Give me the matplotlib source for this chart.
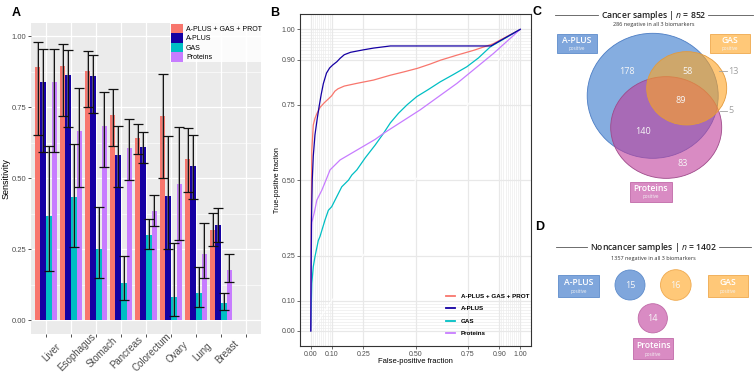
import numpy as np
import matplotlib
matplotlib.use('Agg')
import matplotlib.pyplot as plt
from matplotlib.patches import Ellipse, Circle, Rectangle
from matplotlib.lines import Line2D

plt.rcParams['font.family'] = ['Liberation Sans', 'DejaVu Sans']
plt.rcParams['mathtext.fontset'] = 'custom'
plt.rcParams['mathtext.rm'] = 'Open Sans'
plt.rcParams['mathtext.it'] = 'Open Sans:italic'

# ---- panel A data: sensitivity by cancer type ----
categories = ['Liver', 'Esophagus', 'Stomach', 'Pancreas', 'Colorectum', 'Ovary', 'Lung', 'Breast']
series = ['A-PLUS + GAS + PROT', 'A-PLUS', 'GAS', 'Proteins']
colors = ['#F8766D', '#1500A3', '#00BFC4', '#C77CFF']

combo_sens = [0.890, 0.894, 0.877, 0.722, 0.642, 0.719, 0.567, 0.317]
combo_lo = [0.651, 0.718, 0.750, 0.614, 0.585, 0.501, 0.452, 0.262]
combo_hi = [0.978, 0.971, 0.947, 0.812, 0.692, 0.868, 0.675, 0.378]
aplus_sens = [0.838, 0.863, 0.859, 0.581, 0.610, 0.437, 0.543, 0.335]
aplus_lo = [0.593, 0.680, 0.729, 0.468, 0.552, 0.250, 0.428, 0.276]
aplus_hi = [0.954, 0.951, 0.933, 0.684, 0.662, 0.648, 0.651, 0.396]
gas_sens = [0.366, 0.432, 0.252, 0.129, 0.299, 0.082, 0.097, 0.059]
gas_lo = [0.172, 0.258, 0.147, 0.070, 0.252, 0.014, 0.047, 0.035]
gas_hi = [0.613, 0.620, 0.397, 0.225, 0.355, 0.273, 0.188, 0.096]
prot_sens = [0.838, 0.666, 0.683, 0.606, 0.384, 0.480, 0.232, 0.178]
prot_lo = [0.593, 0.468, 0.539, 0.492, 0.331, 0.282, 0.149, 0.135]
prot_hi = [0.954, 0.817, 0.803, 0.708, 0.441, 0.680, 0.343, 0.232]

# ---- panel B data: ROC curves (fpr, tpr) ----
combo_fpr = [0, 0.002, 0.005, 0.012, 0.02, 0.03, 0.045, 0.065, 0.085, 0.10, 0.115, 0.13, 0.16, 0.22,
             0.30, 0.38, 0.45, 0.51, 0.57, 0.62, 0.70, 0.78, 0.87, 1.0]
combo_tpr = [0, 0.35, 0.60, 0.683, 0.705, 0.722, 0.742, 0.757, 0.770, 0.780, 0.795, 0.803, 0.812, 0.821,
             0.832, 0.848, 0.860, 0.871, 0.885, 0.898, 0.915, 0.931, 0.952, 1.0]
aplus_fpr = [0, 0.003, 0.007, 0.012, 0.02, 0.03, 0.04, 0.05, 0.06, 0.075, 0.09, 0.105, 0.125, 0.14,
             0.16, 0.19, 0.25, 0.30, 0.38, 0.86, 1.0]
aplus_tpr = [0, 0.35, 0.50, 0.58, 0.65, 0.70, 0.745, 0.785, 0.82, 0.855, 0.872, 0.882, 0.893, 0.904,
             0.916, 0.924, 0.932, 0.938, 0.945, 0.945, 1.0]
gas_fpr = [0, 0.003, 0.005, 0.012, 0.02, 0.036, 0.044, 0.068, 0.084, 0.10, 0.124, 0.148, 0.18, 0.196,
           0.22, 0.26, 0.307, 0.347, 0.38, 0.419, 0.46, 0.506, 0.56, 0.618, 0.68, 0.745, 0.80, 0.857, 1.0]
gas_tpr = [0, 0.10, 0.158, 0.213, 0.246, 0.30, 0.313, 0.368, 0.40, 0.412, 0.445, 0.478, 0.50, 0.517,
           0.534, 0.574, 0.616, 0.655, 0.69, 0.722, 0.75, 0.777, 0.80, 0.826, 0.85, 0.876, 0.905, 0.942, 1.0]
prot_fpr = [0, 0.0, 0.003, 0.005, 0.016, 0.029, 0.053, 0.076, 0.092, 0.14, 0.307, 0.347, 0.522, 0.698,
            0.872, 1.0]
prot_tpr = [0, 0.10, 0.28, 0.36, 0.39, 0.434, 0.467, 0.506, 0.534, 0.567, 0.635, 0.655, 0.733, 0.821,
            0.92, 1.0]
roc_ticks = [0, 0.1, 0.25, 0.5, 0.75, 0.9, 1.0]

# ---- panels C/D data: overlap counts ----
cancer_counts = {'aplus': 178, 'aplus_gas': 58, 'gas': 13, 'all': 89, 'gas_prot': 5,
                 'aplus_prot': 140, 'prot': 83}
noncancer_counts = [15, 16, 14]

W, H = 756, 372
fig = plt.figure(figsize=(W / 100, H / 100), dpi=100)

# ================= panel A =================
axA = fig.add_axes([31 / W, 1 - 334 / H, 230 / W, 311 / H])
axA.set_facecolor('#EBEBEB')
for s in axA.spines.values():
    s.set_visible(False)
x = np.arange(1, len(categories) + 1)
bw = 0.225
sens = [combo_sens, aplus_sens, gas_sens, prot_sens]
los = [combo_lo, aplus_lo, gas_lo, prot_lo]
his = [combo_hi, aplus_hi, gas_hi, prot_hi]
for k in range(4):
    xs = x + (k - 1.5) * bw
    v = np.array(sens[k])
    axA.bar(xs, v, bw, color=colors[k], label=series[k], zorder=2)
    yerr = [v - np.array(los[k]), np.array(his[k]) - v]
    axA.errorbar(xs, v, yerr=yerr, fmt='none', ecolor='#777777', elinewidth=1.5, capsize=0,
                 alpha=0.6, zorder=3)
    axA.errorbar(xs, v, yerr=yerr, fmt='none', ecolor='#111111', elinewidth=0.7, capsize=3.4,
                 capthick=0.9, zorder=4)
axA.set_xlim(0.4, 9.6)
axA.set_ylim(-0.049, 1.046)
axA.set_xticks(np.arange(1, 10))
axA.set_xticklabels([])
for i, c in enumerate(categories):
    axA.text(i + 1 + 0.24, -0.058, c, rotation=45, ha='center', va='center', rotation_mode='anchor',
             fontsize=7, color='#4D4D4D', transform=axA.get_xaxis_transform())
axA.set_yticks([0, 0.25, 0.5, 0.75, 1.0])
axA.set_yticks([0.125, 0.375, 0.625, 0.875], minor=True)
axA.set_yticklabels(['0.00', '0.25', '0.50', '0.75', '1.00'], fontsize=5.5, color='#4D4D4D')
axA.grid(True, which='major', color='white', lw=0.9, zorder=0)
axA.grid(True, which='minor', axis='y', color='white', lw=0.45, zorder=0)
axA.set_axisbelow(True)
axA.tick_params(axis='both', length=2.2, width=0.6, color='#333333', pad=1.2)
axA.tick_params(axis='y', which='minor', length=0)
axA.set_ylabel('Sensitivity', fontsize=6.5)
axA.yaxis.set_label_coords(-0.088, 0.5)
legA = axA.legend(loc='upper left', bbox_to_anchor=((170 - 31) / 230, 1.0), prop={'size': 5},
                  handlelength=1.72, handleheight=1.72, handletextpad=0.5, labelspacing=0.0,
                  borderpad=0.1, borderaxespad=0, frameon=True, fancybox=False)
legA.get_frame().set_facecolor('white')
legA.get_frame().set_alpha(0.85)
legA.get_frame().set_linewidth(0)

# ================= panel B =================
axB = fig.add_axes([300.3 / W, 1 - 346 / H, 230.4 / W, 331.7 / H])
minor = list(np.arange(0, 0.101, 0.01)) + list(np.arange(0.9, 1.001, 0.01))
for m in minor:
    axB.axvline(m, color='#EDEDED', lw=0.5, zorder=0)
    axB.axhline(m, color='#EDEDED', lw=0.5, zorder=0)
for t in roc_ticks:
    axB.axvline(t, color='#E8E8E8', lw=0.9, zorder=0)
    axB.axhline(t, color='#E8E8E8', lw=0.9, zorder=0)
axB.plot([0, 1], [0, 1], color='white', lw=0.7, zorder=1)
axB.plot(combo_fpr, combo_tpr, color=colors[0], lw=0.9, label=series[0], zorder=3)
axB.plot(gas_fpr, gas_tpr, color=colors[2], lw=0.9, label=series[2], zorder=3)
axB.plot(prot_fpr, prot_tpr, color=colors[3], lw=0.9, label=series[3], zorder=3)
axB.plot(aplus_fpr, aplus_tpr, color=colors[1], lw=0.9, label=series[1], zorder=4)
axB.set_xlim(-0.05, 1.05)
axB.set_ylim(-0.05, 1.05)
axB.set_xticks(roc_ticks)
axB.set_yticks(roc_ticks)
axB.set_xticklabels(['%.2f' % t for t in roc_ticks], fontsize=5, color='#4D4D4D')
axB.set_yticklabels(['%.2f' % t for t in roc_ticks], fontsize=5, color='#4D4D4D')
axB.tick_params(axis='both', length=2, width=0.5, color='#333333', pad=1.5)
for s in axB.spines.values():
    s.set_color('#333333')
    s.set_linewidth(0.8)
axB.set_xlabel('False-positive fraction', fontsize=5.5)
axB.set_ylabel('True-positive fraction', fontsize=5)
axB.xaxis.set_label_coords(0.5, -0.035)
axB.yaxis.set_label_coords(-0.082, 0.5)
handles = [Line2D([0], [0], color=colors[k], lw=1.3) for k in range(4)]
axB.legend(handles, series, loc='lower right', bbox_to_anchor=(1.0, 0.025),
           prop={'weight': 'bold', 'size': 4.5}, frameon=False, handlelength=1.5,
           handletextpad=0.9, labelspacing=1.15, borderaxespad=0, borderpad=0.2)

# ================= panels C, D (pixel coordinate overlay) =================
ov = fig.add_axes([0, 0, 1, 1])
ov.set_xlim(0, W)
ov.set_ylim(H, 0)
ov.axis('off')

for lab, (px, py) in zip('ABCD', [(16, 12.5), (275, 12.5), (537, 12), (540, 227)]):
    ov.text(px, py, lab, fontsize=9, fontweight='bold', ha='center', va='center')

blue_f, blue_e = '#6A9BDA', '#4C7DC4'
pink_f, pink_e = '#C03E9B', '#9E4A8A'
orng_f, orng_e = '#FFA31E', '#E39A3C'
venn_font = 'Open Sans'

# C: cancer samples
ov.add_patch(Ellipse((652.7, 95.8), 131, 125, facecolor=blue_f, alpha=0.82, edgecolor='none'))
ov.add_patch(Ellipse((652.7, 95.8), 131, 125, facecolor='none', edgecolor=blue_e, lw=0.6))
ov.add_patch(Ellipse((666.2, 127.5), 111, 101.7, facecolor=pink_f, alpha=0.6, edgecolor='none'))
ov.add_patch(Ellipse((666.2, 127.5), 111, 101.7, facecolor='none', edgecolor=pink_e, lw=0.6))
ov.add_patch(Ellipse((686.7, 88.3), 80, 73.3, facecolor=orng_f, alpha=0.6, edgecolor='none'))
ov.add_patch(Ellipse((686.7, 88.3), 80, 73.3, facecolor='none', edgecolor=orng_e, lw=0.6))

num_style = dict(fontsize=6.5, color='#F7F7F7', ha='center', va='center', family=venn_font)
ov.text(626.7, 71, str(cancer_counts['aplus']), **num_style)
ov.text(687.7, 71, str(cancer_counts['aplus_gas']), **num_style)
ov.text(681, 100.7, str(cancer_counts['all']), **num_style)
ov.text(643.3, 131.7, str(cancer_counts['aplus_prot']), **num_style)
ov.text(682.7, 163.3, str(cancer_counts['prot']), **num_style)
ov.plot([718.5, 727], [71, 71], color='#A0A0A0', lw=0.6)
ov.text(728, 71, str(cancer_counts['gas']), fontsize=6.5, color='#A0A0A0', ha='left', va='center',
        family=venn_font)
ov.plot([720, 727], [110.7, 110.7], color='#A0A0A0', lw=0.6)
ov.text(728, 110.7, str(cancer_counts['gas_prot']), fontsize=6.5, color='#A0A0A0', ha='left',
        va='center', family=venn_font)


def label_box(x0, x1, y0, y1, name, face, edge):
    ov.add_patch(Rectangle((x0, y0), x1 - x0, y1 - y0, facecolor=face, edgecolor=edge, lw=0.6))
    cx = (x0 + x1) / 2
    ov.text(cx, y0 + (y1 - y0) * 0.35, name, fontsize=6.2, color='white', fontweight='semibold',
            ha='center', va='center', family=venn_font)
    ov.text(cx, y0 + (y1 - y0) * 0.76, 'positive', fontsize=3.3, color='#F4F4F4',
            ha='center', va='center', family=venn_font)


box_blue, box_orng, box_pink = '#7FA6DC', '#FFC878', '#D98BC3'
label_box(556.7, 596.7, 34.3, 53.3, 'A-PLUS', box_blue, '#5E8CCB')
label_box(710, 750, 34.3, 53.0, 'GAS', box_orng, '#EFA94E')
label_box(630, 671.7, 181.7, 201.7, 'Proteins', box_pink, '#C06AA8')

ov.text(653.3, 15, r'Cancer samples | $n$ = 852', fontsize=6.2, fontweight='semibold',
        ha='center', va='center', family=venn_font, color='#222222')
ov.plot([555, 598.3], [15, 15], color='#555555', lw=0.6)
ov.plot([708.3, 752.7], [15, 15], color='#555555', lw=0.6)
ov.text(653.3, 24.3, '286 negative in all 3 biomarkers', fontsize=4, ha='center', va='center',
        family=venn_font, color='#333333')

# D: noncancer samples
ov.text(653, 247.3, r'Noncancer samples | $n$ = 1402', fontsize=6.2, fontweight='semibold',
        ha='center', va='center', family=venn_font, color='#222222')
ov.plot([556, 587.3], [247.3, 247.3], color='#555555', lw=0.6)
ov.plot([719, 750.7], [247.3, 247.3], color='#555555', lw=0.6)
ov.text(653, 258.3, '1357 negative in all 3 biomarkers', fontsize=4, ha='center', va='center',
        family=venn_font, color='#333333')
for (cx, cy, r), face, edge, n in zip([(630, 285, 15), (675.8, 285, 15.3), (652.8, 318.3, 14.6)],
                                      [box_blue, box_orng, box_pink],
                                      ['#5E8CCB', '#EFA94E', '#C06AA8'], noncancer_counts):
    ov.add_patch(Circle((cx, cy), r, facecolor=face, edgecolor=edge, lw=0.6))
    ov.text(cx, cy, str(n), **num_style)
label_box(558.3, 599, 275, 296.7, 'A-PLUS', box_blue, '#5E8CCB')
label_box(708.3, 748.3, 275, 296.7, 'GAS', box_orng, '#EFA94E')
label_box(633.3, 673.3, 338.3, 359.3, 'Proteins', box_pink, '#C06AA8')

fig.savefig('out.png', dpi=100)
